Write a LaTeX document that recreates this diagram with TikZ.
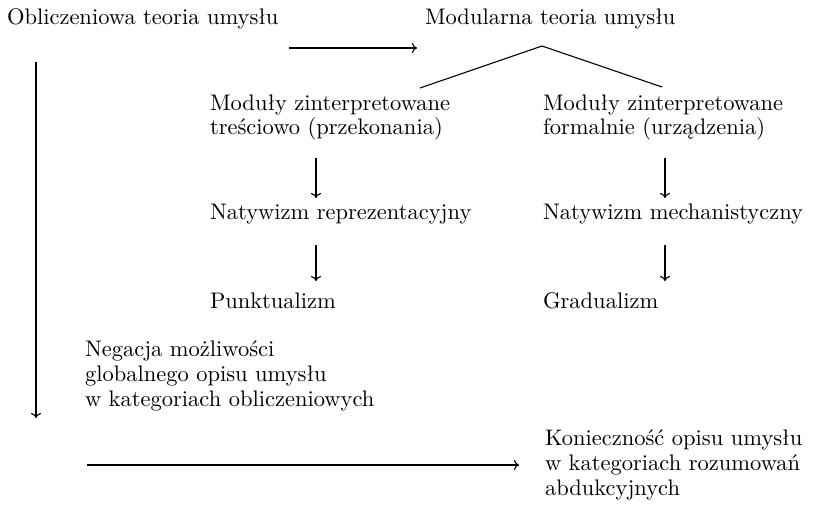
\documentclass[tikz,border=0pt]{standalone}
\usetikzlibrary{arrows.meta}
\begin{document}
\begin{tikzpicture}[x=1pt,y=-1pt,
  txt/.style={inner sep=0pt, outer sep=0pt, scale=2.25, transform shape, align=left,
    font=\fontsize{10}{11.1}\selectfont},
  arr/.style={line width=1.1pt, -{To[length=5pt,width=10pt]}},
  ln/.style={line width=1.1pt}]
\useasboundingbox (0,0) rectangle (814,506);
% texts
\node[txt, anchor=base west] (obl) at (7,24) {Obliczeniowa teoria umysłu};
\node[txt, anchor=base west] (mod) at (425,24) {Modularna teoria umysłu};
\node[txt, anchor=north west] (m1) at (210,94.4) {Moduły zinterpretowane\\treściowo (przekonania)};
\node[txt, anchor=north west] (m2) at (543,94.4) {Moduły zinterpretowane\\formalnie (urządzenia)};
\node[txt, anchor=base west] (n1) at (210,219) {Natywizm reprezentacyjny};
\node[txt, anchor=base west] (n2) at (543,219) {Natywizm mechanistyczny};
\node[txt, anchor=base west] (p1) at (210,308) {Punktualizm};
\node[txt, anchor=base west] (p2) at (543,308) {Gradualizm};
\node[txt, anchor=north west] (neg) at (85,340.4) {Negacja możliwości\\globalnego opisu umysłu\\w kategoriach obliczeniowych};
\node[txt, anchor=north west] (kon) at (545,430.2) {Konieczność opisu umysłu\\w kategoriach rozumowań\\abdukcyjnych};
% connector end points
\coordinate (apex) at (542,46);
\coordinate (tl) at (420,88);
\coordinate (tr) at (662,87);
\coordinate (a1s) at (316,158); \coordinate (a1e) at (316,198);
\coordinate (b1s) at (665,158); \coordinate (b1e) at (665,198);
\coordinate (a2s) at (316,245); \coordinate (a2e) at (316,281);
\coordinate (b2s) at (665,245); \coordinate (b2e) at (665,281);
\coordinate (vs) at (36,62); \coordinate (ve) at (36,418);
\coordinate (hs) at (87,465); \coordinate (he) at (519,465);
% connectors
\draw[arr] ([xshift=11pt,yshift=-24pt]obl.base east) -- ([xshift=-8pt,yshift=-24pt]mod.base west);
\draw[ln] (tl) -- (apex) -- (tr);
\draw[arr] (a1s) -- (a1e);
\draw[arr] (b1s) -- (b1e);
\draw[arr] (a2s) -- (a2e);
\draw[arr] (b2s) -- (b2e);
\draw[arr] (vs) -- (ve);
\draw[arr] (hs) -- (he);
\end{tikzpicture}
\end{document}
